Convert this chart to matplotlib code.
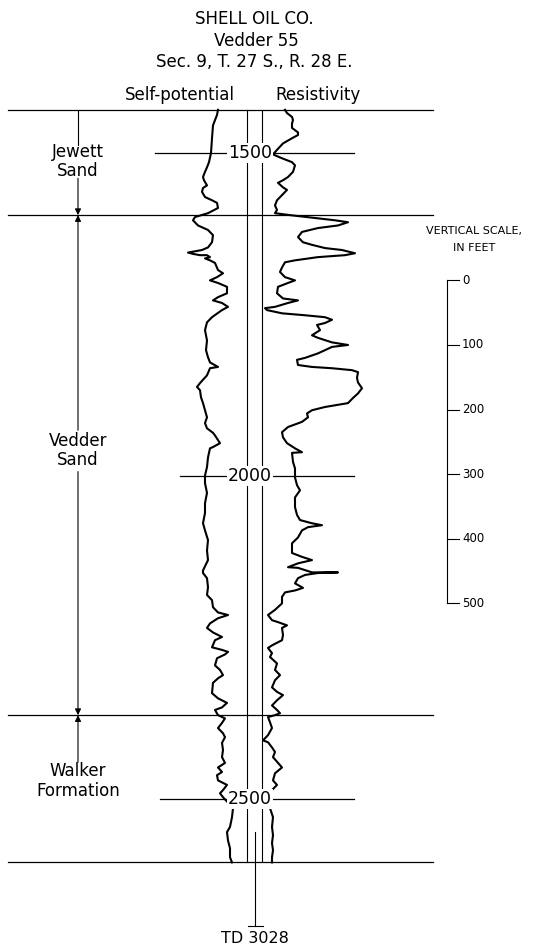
import matplotlib
matplotlib.use("Agg")
import matplotlib.pyplot as plt

plt.rcParams['font.family'] = ['DejaVu Sans']

# depths in feet
log_top = 1433
jewett_base = 1596
vedder_base = 2370
log_bottom = 2598
depth_marks = [1500, 2000, 2500]
depth_labels = ["1500", "2000", "2500"]
formations = ["Jewett\nSand", "Vedder\nSand", "Walker\nFormation"]

# self-potential curve (track units, depth ft)
sp_value = [218, 217, 213, 212, 211, 209, 207, 205, 203, 204, 207, 203, 202, 205, 212, 217, 218, 208, 195, 193,
            198, 208, 213, 212, 208, 202, 188, 193, 200, 207, 210, 205, 210, 215, 218, 223, 217, 210, 218, 227,
            227, 218, 213, 222, 228, 222, 212, 207, 205, 207, 206, 208, 210, 218, 210, 207, 203, 200, 197, 200,
            201, 203, 205, 207, 205, 207, 213, 215, 220, 213, 210, 208, 207, 205, 205, 207, 205, 205, 203, 205,
            208, 207, 208, 203, 203, 207, 208, 207, 212, 213, 218, 228, 218, 210, 207, 213, 222, 215, 212, 222,
            228, 225, 217, 215, 220, 223, 218, 213, 212, 218, 227, 222, 215, 218, 225, 222, 218, 223, 225, 222,
            223, 222, 225, 218, 222, 217, 218, 227, 223, 220, 223, 233, 232, 230, 227, 228, 230, 230, 232]
sp_depth = [1433, 1441, 1457, 1477, 1500, 1514, 1522, 1529, 1537, 1542, 1550, 1554, 1560, 1568, 1573, 1577, 1585, 1593, 1599, 1604,
            1612, 1619, 1627, 1638, 1646, 1650, 1654, 1656, 1658, 1658, 1661, 1663, 1666, 1670, 1681, 1686, 1692, 1697, 1701, 1707,
            1717, 1723, 1728, 1732, 1738, 1743, 1754, 1762, 1774, 1790, 1805, 1816, 1824, 1831, 1833, 1844, 1851, 1856, 1862, 1867,
            1878, 1887, 1898, 1909, 1918, 1926, 1933, 1937, 1949, 1955, 1957, 1971, 1986, 1999, 2011, 2026, 2042, 2057, 2073, 2084,
            2099, 2115, 2130, 2146, 2150, 2158, 2172, 2184, 2192, 2203, 2211, 2215, 2220, 2228, 2235, 2242, 2249, 2254, 2265, 2269,
            2272, 2276, 2282, 2293, 2300, 2308, 2313, 2320, 2336, 2344, 2351, 2358, 2362, 2370, 2375, 2382, 2390, 2398, 2404, 2413,
            2424, 2435, 2444, 2451, 2458, 2463, 2471, 2478, 2486, 2491, 2497, 2514, 2528, 2543, 2551, 2564, 2576, 2590, 2598]

# resistivity curve
res_value = [285, 287, 292, 293, 292, 292, 298, 298, 292, 283, 277, 273, 282, 292, 295, 293, 288, 283, 278, 283,
             287, 282, 277, 275, 277, 275, 290, 318, 335, 348, 338, 318, 302, 298, 303, 312, 325, 342, 355, 345,
             318, 295, 285, 282, 280, 285, 295, 288, 278, 277, 283, 298, 288, 275, 265, 267, 282, 305, 325, 332,
             325, 317, 320, 312, 318, 332, 348, 332, 318, 305, 297, 298, 312, 332, 352, 358, 357, 358, 362, 358,
             353, 348, 325, 312, 307, 308, 302, 288, 282, 283, 287, 295, 302, 292, 293, 295, 295, 297, 300, 295,
             295, 297, 300, 312, 322, 308, 302, 298, 292, 292, 292, 302, 312, 298, 288, 298, 312, 338, 318, 305,
             298, 295, 303, 295, 285, 282, 282, 275, 268, 272, 278, 287, 282, 283, 282, 272, 268, 272, 270, 277,
             275, 280, 275, 272, 277, 283, 277, 272, 277, 280, 275, 268, 270, 272, 268, 263, 268, 272, 275, 273,
             278, 282, 275, 273, 277, 272, 270, 270, 273, 272, 273, 272, 273, 272, 272]
res_depth = [1433, 1438, 1444, 1449, 1454, 1461, 1468, 1472, 1477, 1485, 1495, 1502, 1508, 1514, 1519, 1529, 1537, 1542, 1546, 1553,
             1557, 1565, 1573, 1581, 1588, 1593, 1596, 1601, 1604, 1607, 1612, 1616, 1622, 1630, 1638, 1642, 1647, 1650, 1655, 1658,
             1661, 1666, 1669, 1677, 1684, 1692, 1697, 1701, 1707, 1717, 1725, 1728, 1732, 1738, 1740, 1743, 1748, 1751, 1754, 1758,
             1763, 1766, 1774, 1782, 1786, 1793, 1797, 1800, 1810, 1817, 1820, 1828, 1831, 1833, 1836, 1839, 1848, 1855, 1864, 1872,
             1879, 1887, 1893, 1898, 1903, 1909, 1916, 1924, 1932, 1940, 1949, 1957, 1963, 1964, 1978, 1988, 2002, 2014, 2022, 2033,
             2048, 2060, 2068, 2073, 2076, 2079, 2084, 2095, 2104, 2110, 2119, 2125, 2130, 2135, 2141, 2142, 2149, 2149, 2150, 2153,
             2158, 2166, 2173, 2177, 2180, 2187, 2197, 2207, 2215, 2223, 2226, 2231, 2235, 2246, 2254, 2262, 2266, 2274, 2280, 2290,
             2300, 2308, 2316, 2327, 2334, 2339, 2347, 2355, 2362, 2367, 2370, 2373, 2381, 2390, 2401, 2409, 2412, 2420, 2427, 2435,
             2444, 2451, 2460, 2471, 2478, 2486, 2491, 2514, 2528, 2543, 2556, 2568, 2579, 2590, 2598]

scale_ticks = [0, 100, 200, 300, 400, 500]
scale_labels = ["0", "100", "200", "300", "400", "500"]

fig = plt.figure(figsize=(5.37, 9.49), dpi=100)
ax = fig.add_axes([0, 0, 1, 1])
ax.set_xlim(0, 537)
ax.set_ylim(2732, 1263)
ax.axis("off")

# titles
ax.text(254, 1292, "SHELL OIL CO.", ha="center", va="center", fontsize=12)
ax.text(256, 1326, "Vedder 55", ha="center", va="center", fontsize=12)
ax.text(254, 1359, "Sec. 9, T. 27 S., R. 28 E.", ha="center", va="center", fontsize=12)
ax.text(180, 1410, "Self-potential", ha="center", va="center", fontsize=12)
ax.text(318, 1410, "Resistivity", ha="center", va="center", fontsize=12)

# formation boundaries
for d in [log_top, jewett_base, vedder_base, log_bottom]:
    ax.plot([8, 433], [d, d], color="black", lw=0.9)

# center lines
ax.plot([247, 247], [log_top, log_bottom], color="black", lw=0.8)
ax.plot([262, 262], [log_top, log_bottom], color="black", lw=0.8)

# curves
ax.plot(sp_value, sp_depth, color="black", lw=1.5, solid_joinstyle="round")
ax.plot(res_value, res_depth, color="black", lw=1.5, solid_joinstyle="round")

# depth marks
mark_left = [155, 180, 160]
for d, lab, x0 in zip(depth_marks, depth_labels, mark_left):
    ax.plot([x0, 354], [d, d], color="black", lw=0.9)
    ax.text(250, d, lab, ha="center", va="center", fontsize=12.5, zorder=5,
            bbox=dict(facecolor="white", edgecolor="none", pad=0.5))

# formation arrows
arr = dict(arrowstyle="-|>", lw=0.8, color="black", mutation_scale=9, shrinkA=0, shrinkB=0)
ax.plot([78, 78], [log_top, 1488], color="black", lw=0.8)
ax.annotate("", xy=(78, jewett_base), xytext=(78, 1539), arrowprops=arr)
ax.annotate("", xy=(78, jewett_base), xytext=(78, 1929), arrowprops=arr)
ax.annotate("", xy=(78, vedder_base), xytext=(78, 1993), arrowprops=arr)
ax.annotate("", xy=(78, vedder_base), xytext=(78, 2443), arrowprops=arr)
ax.text(78, 1513, formations[0], ha="center", va="center", fontsize=12, linespacing=1.1)
ax.text(78, 1960, formations[1], ha="center", va="center", fontsize=12, linespacing=1.1)
ax.text(78, 2472, formations[2], ha="center", va="center", fontsize=12, linespacing=1.1)

# vertical scale bar
scale_top = 1697
ax.text(474, 1621, "VERTICAL SCALE,", ha="center", va="center", fontsize=8)
ax.text(474, 1647, "IN FEET", ha="center", va="center", fontsize=8)
ax.plot([447, 447], [scale_top, scale_top + 500], color="black", lw=0.8)
for t, lab in zip(scale_ticks, scale_labels):
    ax.plot([447, 459], [scale_top + t, scale_top + t], color="black", lw=0.8)
    ax.text(462, scale_top + t, lab, ha="left", va="center", fontsize=8.5)

# total depth marker
ax.plot([255, 255], [2551, 2697], color="black", lw=0.8)
ax.plot([248, 263], [2697, 2697], color="black", lw=0.8)
ax.text(255, 2716, "TD 3028", ha="center", va="center", fontsize=11.5)

fig.savefig("out.png", dpi=100)
